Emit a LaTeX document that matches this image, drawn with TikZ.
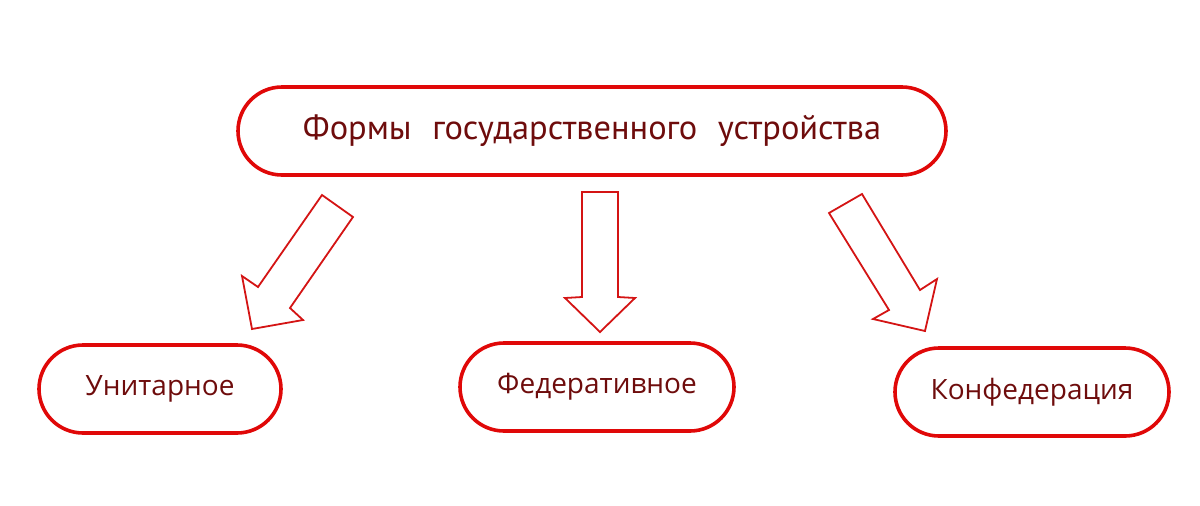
\documentclass[tikz,border=0pt]{standalone}
\usepackage{fontspec}
\setmainfont{PT Sans}
\newfontfamily\boxfont{Open Sans}
\definecolor{boxred}{HTML}{E00808}
\definecolor{arrred}{HTML}{D41414}
\definecolor{txtred}{HTML}{6E0C0C}
\begin{document}
\begin{tikzpicture}[x=0.5pt,y=-0.5pt,
  pill/.style={draw=boxred,line width=1.8pt,rounded corners=22pt,minimum height=44pt,text=txtred,inner sep=0pt},
  blockarrow/.style={draw=arrred,line width=0.9pt,line join=miter,fill=white}]
\useasboundingbox (0,0) rectangle (1200,505);
\node[pill,minimum width=354pt,font=\fontsize{17.2}{20}\selectfont] (top) at (592,131)
  {Формы\hspace{0.6em}государственного\hspace{0.6em}устройства};
\node[pill,minimum width=121pt,font=\boxfont\fontsize{14}{16}\selectfont] (uni) at (160,389) {Унитарное};
\node[pill,minimum width=137pt,font=\boxfont\fontsize{14}{16}\selectfont] (fed) at (597,387) {Федеративное};
\node[pill,minimum width=137pt,font=\boxfont\fontsize{14}{16}\selectfont] (kon) at (1032,392) {Конфедерация};
% block arrows
\draw[blockarrow] (322,195) -- (353,217) -- (290,308) -- (303,320) -- (252,329) -- (242,276) -- (258,287) -- cycle;
\draw[blockarrow] (582,192) -- (618,192) -- (618,297) -- (635,298) -- (600,332) -- (565,298) -- (582,297) -- cycle;
\draw[blockarrow] (829,213) -- (862,194) -- (920,290) -- (937,279) -- (925,331) -- (873,319) -- (889,310) -- cycle;
\end{tikzpicture}
\end{document}
